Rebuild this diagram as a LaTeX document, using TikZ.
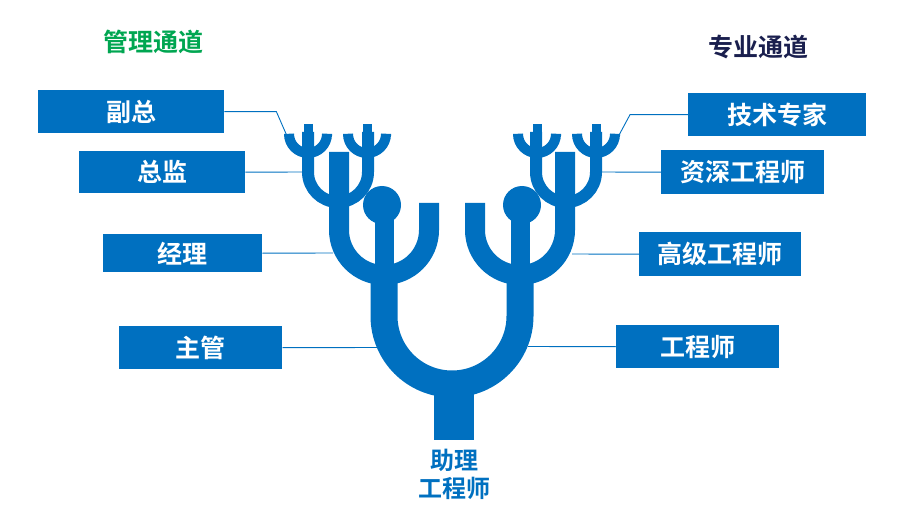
\documentclass[tikz,border=0pt]{standalone}
\usepackage{fontspec}
\newfontfamily\cjk{Noto Sans CJK SC}[BoldFont={Noto Sans CJK SC Bold}]
\definecolor{tb}{HTML}{0070C0}
\definecolor{tg}{HTML}{00A651}
\definecolor{tn}{HTML}{1A1F4E}
\begin{document}
\begin{tikzpicture}[x=1pt,y=-1pt,
  lab/.style={fill=tb,text=white,font=\cjk\bfseries\fontsize{25}{28}\selectfont,inner sep=0pt,anchor=north west},
  conn/.style={draw=tb,line width=0.9pt},
  br/.style={draw=tb,line cap=butt}]
\useasboundingbox (0,0) rectangle (910,513);
% trunk
\fill[tb] (434,388) rectangle (474,440);
% big U
\draw[br,line width=27pt] (384,270) -- (384,316) arc(180:0:68) -- (520,270);
\foreach \s in {1,-1}{
\begin{scope}[xshift={(\s==1?0:904)},xscale=\s]
% level2
\draw[br,line width=20pt] (339,152) -- (339,230) arc(180:0:45) -- (429,203);
\draw[br,line width=19pt] (384,215) -- (384,290);
\fill[tb] (382,205) circle (19);
% level3
\draw[br,line width=12pt] (308,132) -- (308,172) arc(180:0:30) -- (368,132);
\draw[br,line width=12pt] (338,157) -- (338,180);
% level4
\foreach \c in {308,367}{
\draw[br,line width=10pt] (\c-19,136) -- (\c-19,134) arc(180:0:19) -- (\c+19,136);
\draw[br,line width=9pt] (\c,124) -- (\c,150);
}
\end{scope}}
% labels
\node[lab,minimum width=186pt,minimum height=43pt] (fz) at (38,90) {副总};
\node[lab,minimum width=166pt,minimum height=42pt] (zj) at (79,151) {总监};
\node[lab,minimum width=159pt,minimum height=38pt] (jl) at (103,234) {经理};
\node[lab,minimum width=163pt,minimum height=43pt] (zg) at (119,326) {主管};
\node[lab,minimum width=178pt,minimum height=43pt] (js) at (688,93) {技术专家};
\node[lab,minimum width=163pt,minimum height=44pt] (zs) at (661,150) {资深工程师};
\node[lab,minimum width=162pt,minimum height=44pt] (gj) at (639,232) {高级工程师};
\node[lab,minimum width=163pt,minimum height=43pt] (gc) at (616,325) {工程师};
\coordinate (a1) at (287,136); \coordinate (a2) at (302,172);
\coordinate (a3) at (333,253); \coordinate (a4) at (378,347.5);
\coordinate (b1) at (618,137); \coordinate (b2) at (600,172);
\coordinate (b3) at (572,254); \coordinate (b4) at (528,346.5);
\draw[conn] (fz.east) -- ++(52,0) -- (a1);
\draw[conn] (zj.east) -- (a2);
\draw[conn] (jl.east) -- (a3);
\draw[conn] (zg.east) -- (a4);
\draw[conn] (js.west) -- ++(-58,0) -- (b1);
\draw[conn] (zs.west) -- (b2);
\draw[conn] (gj.west) -- (b3);
\draw[conn] (gc.west) -- (b4);
\node[font=\cjk\bfseries\fontsize{25}{28}\selectfont,text=tg] (t1) at (153,42) {管理通道};
\node[font=\cjk\bfseries\fontsize{25}{28}\selectfont,text=tn] (t2) at (758,47) {专业通道};
\node[font=\cjk\bfseries\fontsize{24}{28}\selectfont,text=tb,align=center] (zl) at (454,474) {助理\\工程师};
\end{tikzpicture}
\end{document}
